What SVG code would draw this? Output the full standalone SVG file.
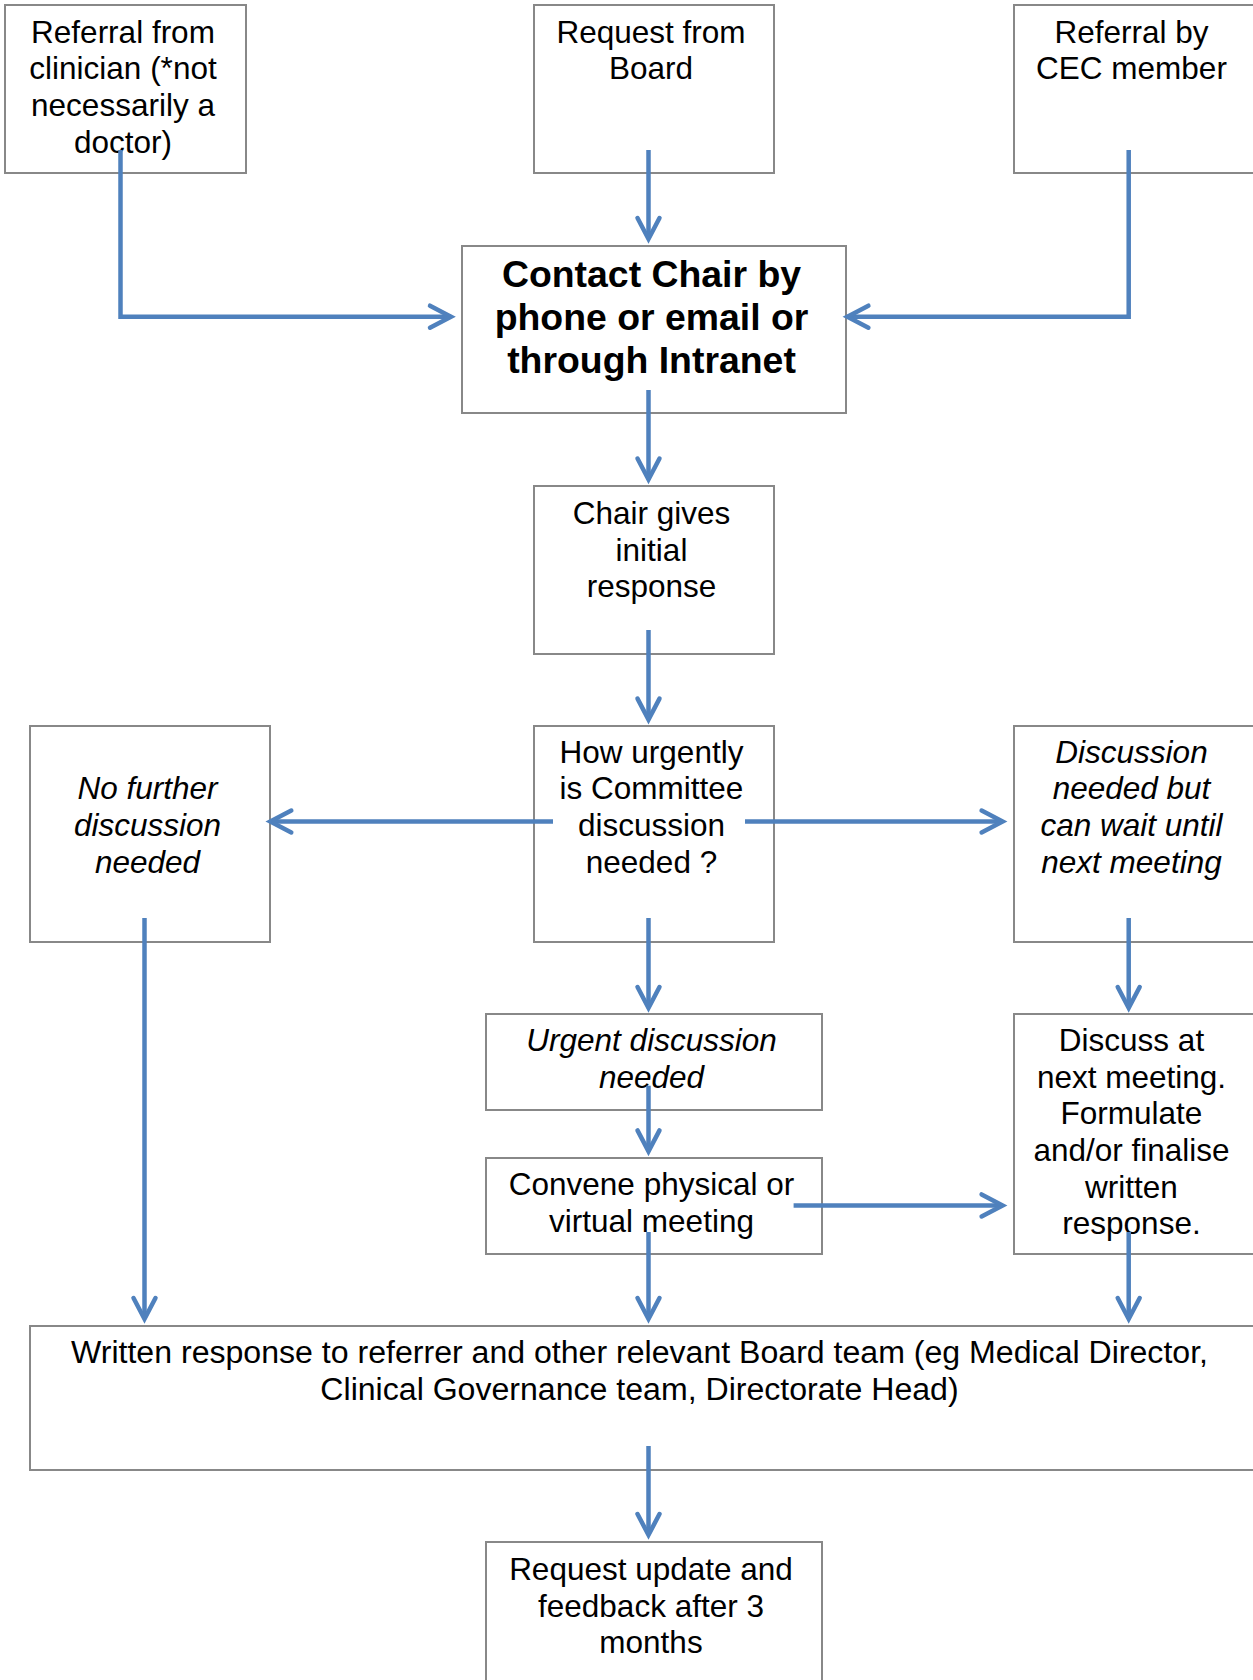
<svg xmlns="http://www.w3.org/2000/svg" width="1253" height="1680" viewBox="0 0 1253 1680">
<style>
.box{fill:#fff;stroke:#888;stroke-width:2}
.t{font-family:"Liberation Sans",Arial,Helvetica,sans-serif;font-size:31.5px;fill:#000;text-anchor:middle}
.i{font-style:italic}
.b{font-weight:bold;font-size:37.4px}
.w{font-size:32.1px}
.c{fill:none;stroke:#4F81BD;stroke-width:4.5;stroke-linejoin:miter;marker-end:url(#arr)}
</style>
<defs>
<marker id="arr" markerUnits="userSpaceOnUse" markerWidth="40" markerHeight="40" viewBox="-30 -20 40 40" refX="0" refY="0" orient="auto" overflow="visible">
<path d="M-21,-11 L0,0 L-21,11" fill="none" stroke="#4F81BD" stroke-width="4.5" stroke-linecap="round" stroke-linejoin="miter"/>
</marker>
</defs>
<rect width="1253" height="1680" fill="#fff"/>
<g id="n1"><rect class="box" x="5" y="5" width="241" height="168"/>
<text class="t"><tspan x="123" y="42.7">Referral from</tspan><tspan x="123" y="79.4">clinician (*not</tspan><tspan x="123" y="116.1">necessarily a</tspan><tspan x="123" y="152.8">doctor)</tspan></text></g>
<g id="n2"><rect class="box" x="534" y="5" width="240" height="168"/>
<text class="t"><tspan x="651" y="42.7">Request from</tspan><tspan x="651" y="79.4">Board</tspan></text></g>
<g id="n3"><rect class="box" x="1014" y="5" width="242" height="168"/>
<text class="t"><tspan x="1131.5" y="42.7">Referral by</tspan><tspan x="1131.5" y="79.4">CEC member</tspan></text></g>
<g id="n4"><rect class="box" x="462" y="246" width="384" height="167"/>
<text class="t b"><tspan x="651.5" y="287.3">Contact Chair by</tspan><tspan x="651.5" y="330">phone or email or</tspan><tspan x="651.5" y="372.7">through Intranet</tspan></text></g>
<g id="n5"><rect class="box" x="534" y="486" width="240" height="168"/>
<text class="t"><tspan x="651.5" y="524">Chair gives</tspan><tspan x="651.5" y="560.7">initial</tspan><tspan x="651.5" y="597.4">response</tspan></text></g>
<g id="n6"><rect class="box" x="534" y="726" width="240" height="216"/>
<text class="t"><tspan x="651.5" y="762.5">How urgently</tspan><tspan x="651.5" y="799.2">is Committee</tspan><tspan x="651.5" y="835.9">discussion</tspan><tspan x="651.5" y="872.6">needed ?</tspan></text></g>
<g id="n7"><rect class="box" x="30" y="726" width="240" height="216"/>
<text class="t i"><tspan x="147.5" y="799.2">No further</tspan><tspan x="147.5" y="835.9">discussion</tspan><tspan x="147.5" y="872.6">needed</tspan></text></g>
<g id="n8"><rect class="box" x="1014" y="726" width="242" height="216"/>
<text class="t i"><tspan x="1131.5" y="762.5">Discussion</tspan><tspan x="1131.5" y="799.2">needed but</tspan><tspan x="1131.5" y="835.9">can wait until</tspan><tspan x="1131.5" y="872.6">next meeting</tspan></text></g>
<g id="n9"><rect class="box" x="486" y="1014" width="336" height="96"/>
<text class="t i"><tspan x="651.5" y="1050.8">Urgent discussion</tspan><tspan x="651.5" y="1087.5">needed</tspan></text></g>
<g id="n10"><rect class="box" x="486" y="1158" width="336" height="96"/>
<text class="t"><tspan x="651.5" y="1194.8">Convene physical or</tspan><tspan x="651.5" y="1231.5">virtual meeting</tspan></text></g>
<g id="n11"><rect class="box" x="1014" y="1014" width="242" height="240"/>
<text class="t"><tspan x="1131.5" y="1050.8">Discuss at</tspan><tspan x="1131.5" y="1087.5">next meeting.</tspan><tspan x="1131.5" y="1124.2">Formulate</tspan><tspan x="1131.5" y="1160.9">and/or finalise</tspan><tspan x="1131.5" y="1197.6">written</tspan><tspan x="1131.5" y="1234.3">response.</tspan></text></g>
<g id="n12"><rect class="box" x="30" y="1326" width="1226" height="144"/>
<text class="t w"><tspan x="639.5" y="1362.9">Written response to referrer and other relevant Board team (eg Medical Director,</tspan><tspan x="639.5" y="1399.6">Clinical Governance team, Directorate Head)</tspan></text></g>
<g id="n13"><rect class="box" x="486" y="1542" width="336" height="160"/>
<text class="t"><tspan x="651" y="1579.8">Request update and</tspan><tspan x="651" y="1616.5">feedback after 3</tspan><tspan x="651" y="1653.2">months</tspan></text></g>
<g id="connectors">
<path class="c" d="M120.5,150 V316.7 H451"/>
<path class="c" d="M648.5,150 V239"/>
<path class="c" d="M1128.7,150 V316.7 H847.4"/>
<path class="c" d="M648.5,390 V479.5"/>
<path class="c" d="M648.5,630 V719.6"/>
<path class="c" d="M553,821.5 H270.3"/>
<path class="c" d="M745,821.5 H1002.6"/>
<path class="c" d="M648.5,918 V1008"/>
<path class="c" d="M1128.7,918 V1008"/>
<path class="c" d="M648.5,1085.7 V1151.4"/>
<path class="c" d="M793.6,1205.4 H1002.6"/>
<path class="c" d="M648.5,1232 V1319"/>
<path class="c" d="M1128.7,1232 V1319"/>
<path class="c" d="M144.5,918 V1319"/>
<path class="c" d="M648.5,1446 V1535"/>
</g>
</svg>
